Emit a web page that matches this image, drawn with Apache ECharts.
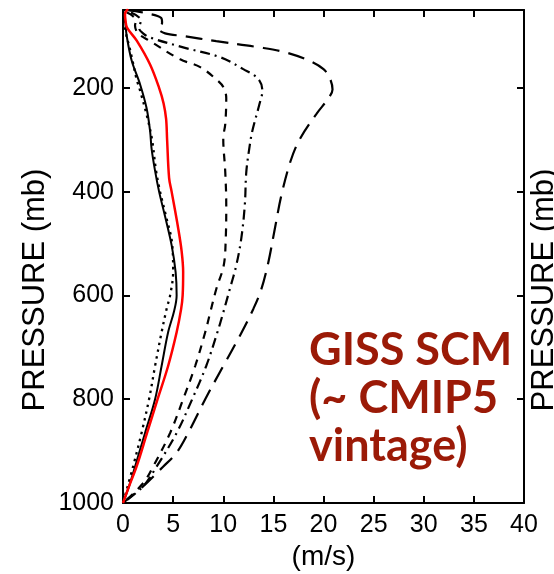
<!DOCTYPE html>
<html><head><meta charset="utf-8">
<script src="https://cdn.jsdelivr.net/npm/echarts@6/dist/echarts.min.js"></script>
<style>html,body{margin:0;padding:0;background:#fff}#c{width:554px;height:574px}</style>
</head><body><div id="c"></div>
<script>
// Wind speed profiles (m/s) vs pressure (mb)
const solidP  = [50, 70, 100, 148, 193, 239, 283, 317, 360, 400, 448, 503, 555, 600, 630, 671, 736, 800, 865, 930, 968, 1000];
const solidU  = [0, 0.2, 0.37, 0.87, 1.7, 2.35, 2.7, 2.85, 3.2, 3.6, 4.2, 4.85, 5.25, 5.35, 5.1, 4.5, 3.85, 3.2, 2.2, 1.2, 0.6, 0];

const dottedP = [70, 100, 118, 152, 183, 205, 255, 300, 360, 400, 448, 500, 555, 600, 626, 671, 736, 800, 865, 930, 1000];
const dottedU = [0.1, 0.35, 0.6, 1.0, 1.35, 1.7, 2.4, 2.9, 3.3, 3.7, 4.3, 4.9, 5.0, 4.7, 4.35, 3.85, 3.2, 2.6, 1.85, 1.0, 0];

const redP    = [48, 58, 70, 84, 109, 155, 200, 230, 260, 300, 374, 400, 470, 515, 555, 600, 626, 671, 736, 800, 865, 930, 968, 1000];
const redU    = [0.5, 0.2, 0.25, 0.4, 1.37, 2.7, 3.6, 4.05, 4.3, 4.4, 4.6, 4.85, 5.5, 5.85, 6.0, 5.95, 5.8, 5.35, 4.5, 3.45, 2.4, 1.35, 0.6, 0];

const dashP   = [55, 62, 70, 80, 95, 110, 145, 160, 187, 200, 220, 270, 297, 362, 426, 490, 542, 588, 633, 671, 736, 800, 865, 930, 962, 1000];
const dashU   = [0.4, 1.0, 1.3, 1.2, 1.5, 2.7, 5.7, 7.7, 9.5, 10.05, 10.3, 10.2, 10.0, 10.2, 10.3, 10.25, 10.05, 9.3, 8.7, 8.2, 7.2, 6.0, 4.7, 3.0, 2.0, 0];

const dashDotP = [55, 70, 85, 95, 103, 122, 141, 164, 183, 206, 232, 283, 310, 362, 426, 490, 542, 588, 633, 672, 736, 800, 865, 930, 968, 1000];
const dashDotU = [0.8, 1.8, 1.6, 2.0, 2.7, 6.0, 9.7, 12.0, 13.5, 13.9, 13.6, 12.9, 12.65, 12.3, 12.15, 11.8, 11.3, 10.65, 10.0, 9.4, 8.3, 6.9, 5.35, 3.35, 2.0, 0];

const longP   = [50, 55, 65, 75, 85, 95, 100, 110, 122, 132, 148, 164, 180, 203, 220, 250, 300, 342, 407, 471, 536, 588, 626, 678, 736, 800, 865, 903, 930, 968, 1000];
const longU   = [0.3, 2.0, 3.8, 3.9, 3.5, 4.2, 6.0, 9.3, 13.6, 16.3, 18.6, 20.0, 20.6, 20.9, 20.5, 19.3, 17.6, 16.7, 15.8, 15.15, 14.5, 13.8, 13.0, 11.65, 10.0, 8.2, 6.5, 5.35, 4.0, 2.0, 0];

const pressureTicks = [200, 400, 600, 800, 1000];
const speedTicks = [0, 5, 10, 15, 20, 25, 30, 35, 40];
const yTitle = 'PRESSURE (mb)';
const xTitle = '(m/s)';
const annotation = ['GISS SCM', '(~ CMIP5', 'vintage)'];

const pairs = (u, p) => u.map((v, i) => [v, p[i]]);
const AX = '#000';
const font = 'Liberation Sans, Arial, Helvetica, sans-serif';
const LBL = 25;

function line(name, u, p, color, type, width) {
  return { name, type: 'line', data: pairs(u, p), showSymbol: false, smooth: 0.35,
    xAxisIndex: 0, yAxisIndex: 0,
    lineStyle: { color, type, width }, z: 3, silent: true };
}

const chart = echarts.init(document.getElementById('c'), null, { renderer: 'canvas' });
chart.setOption({
  animation: false,
  backgroundColor: '#fff',
  grid: { left: 123, top: 10, width: 401, height: 493, containLabel: false, outerBoundsMode: 'none' },
  xAxis: [
    { type: 'value', min: 0, max: 40, interval: 5, position: 'bottom',
      name: xTitle, nameLocation: 'middle', nameGap: 40,
      nameTextStyle: { fontFamily: font, fontSize: 28, color: '#000' },
      axisLine: { show: true, lineStyle: { color: AX, width: 2 } },
      axisTick: { show: true, inside: true, length: 7, lineStyle: { color: AX, width: 2 } },
      axisLabel: { show: true, fontFamily: font, fontSize: LBL, color: '#000', margin: 10, formatter: v => speedTicks.includes(v) ? String(v) : '' },
      splitLine: { show: false } },
    { type: 'value', min: 0, max: 40, interval: 5, position: 'top',
      axisLine: { show: true, onZero: false, lineStyle: { color: AX, width: 2 } },
      axisTick: { show: true, inside: true, length: 7, lineStyle: { color: AX, width: 2 } },
      axisLabel: { show: false }, splitLine: { show: false } }
  ],
  yAxis: [
    { type: 'value', inverse: true, min: 50, max: 1000, position: 'left',
      axisLine: { show: true, onZero: false, lineStyle: { color: AX, width: 2 } },
      axisTick: { show: true, inside: true, length: 7, customValues: pressureTicks, lineStyle: { color: AX, width: 2 } },
      axisLabel: { show: true, fontFamily: font, fontSize: LBL, color: '#000', margin: 9, customValues: pressureTicks, formatter: v => String(v) },
      splitLine: { show: false } },
    { type: 'value', inverse: true, min: 50, max: 1000, position: 'right',
      axisLine: { show: true, onZero: false, lineStyle: { color: AX, width: 2 } },
      axisTick: { show: true, inside: true, length: 7, customValues: pressureTicks, lineStyle: { color: AX, width: 2 } },
      axisLabel: { show: false }, splitLine: { show: false } }
  ],
  series: [
    line('dotted', dottedU, dottedP, '#000', [2.5, 4.5], 2.3),
    line('solid', solidU, solidP, '#000', 'solid', 2),
    line('dash', dashU, dashP, '#000', [8, 7], 2.2),
    line('dashdot', dashDotU, dashDotP, '#000', [10, 5, 2, 5], 2.2),
    line('longdash', longU, longP, '#000', [17, 9], 2.2),
    line('red', redU, redP, '#ff0000', 'solid', 2.5)
  ],
  graphic: [
    { type: 'text', x: 35, y: 290, rotation: Math.PI / 2, z: 10,
      style: { text: yTitle, fill: '#000', font: '31px ' + font, align: 'center', verticalAlign: 'middle' } },
    { type: 'text', x: 544, y: 290, rotation: Math.PI / 2, z: 10,
      style: { text: yTitle, fill: '#000', font: '31px ' + font, align: 'center', verticalAlign: 'middle' } },
    { type: 'text', left: 309, top: 326, z: 10,
      style: { text: annotation.join('\n'), fill: '#9b1a07', font: 'bold 45px Lato, "Open Sans", sans-serif', lineHeight: 48 } }
  ]
});
</script></body></html>
